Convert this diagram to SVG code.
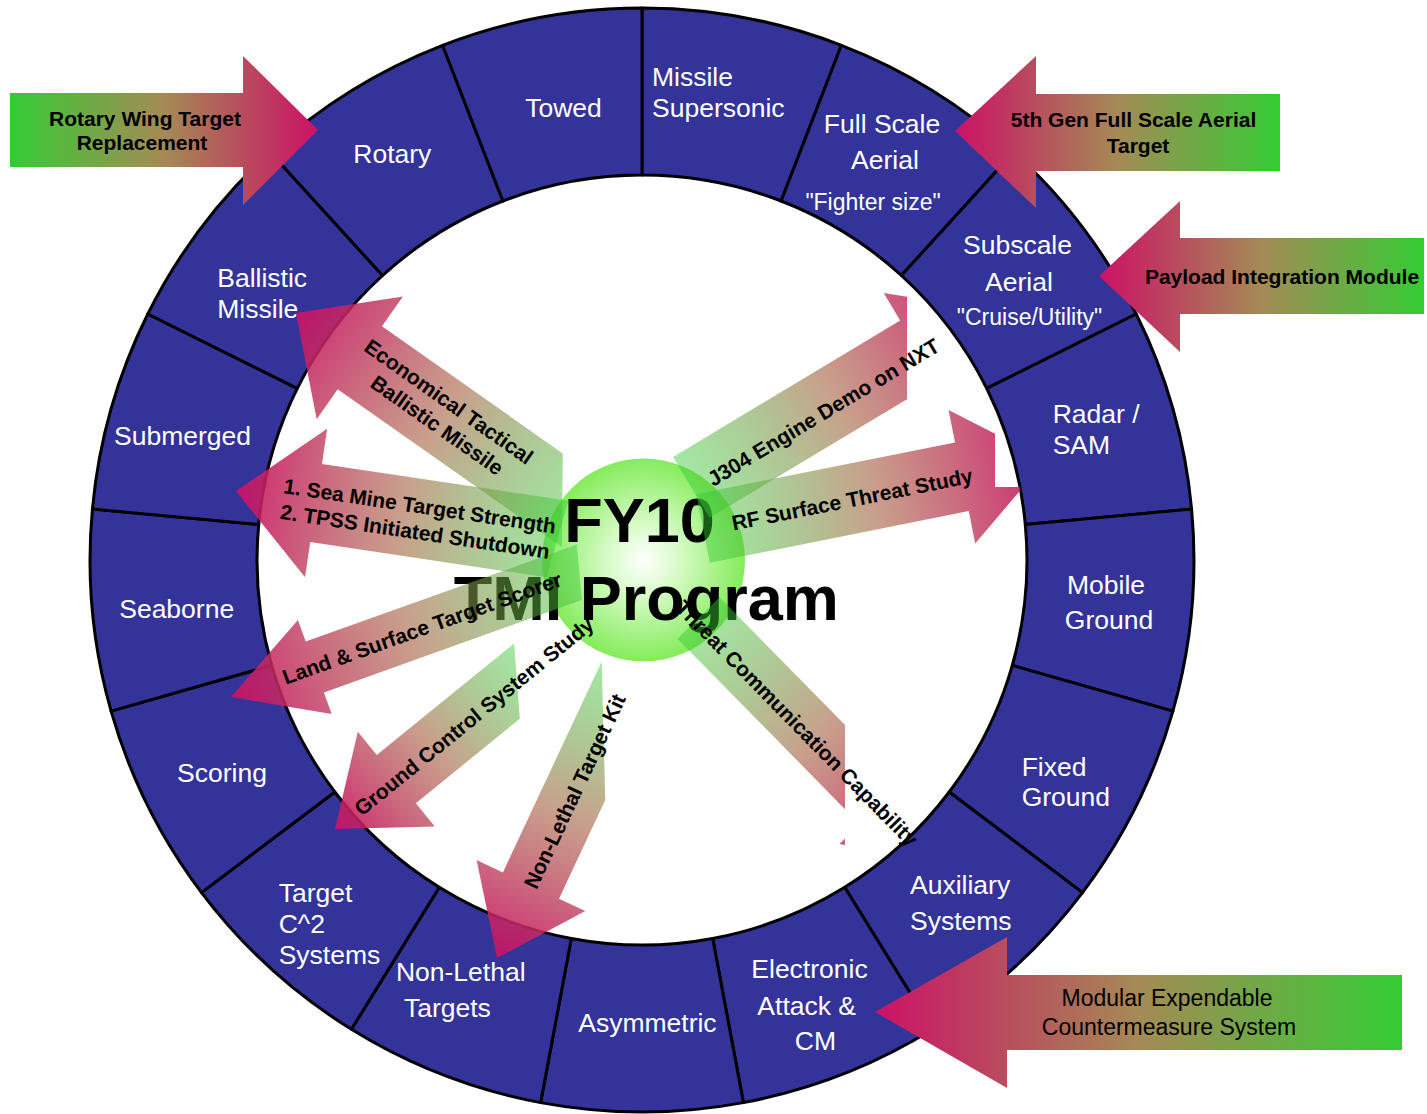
<svg xmlns="http://www.w3.org/2000/svg" width="1427" height="1114" viewBox="0 0 1427 1114">
<defs>
<style>
.seg{fill:#333399;stroke:#000;stroke-width:3;stroke-linejoin:round}
.lbl{font-family:"Liberation Sans",Arial,sans-serif;font-size:26.5px;fill:#fff}
.sub{font-size:23px}
.m{text-anchor:middle}
.ob{font-family:"Liberation Sans",Arial,sans-serif;font-size:21px;font-weight:bold;fill:#000;text-anchor:middle}
.on{font-family:"Liberation Sans",Arial,sans-serif;font-size:23px;fill:#000;text-anchor:middle}
.ib{font-family:"Liberation Sans",Arial,sans-serif;font-size:21px;font-weight:bold;fill:#000;text-anchor:middle}
.ct{font-family:"Liberation Sans",Arial,sans-serif;font-size:63px;font-weight:bold;fill:#000;text-anchor:middle}
</style>
<linearGradient id="gR" x1="0" y1="0" x2="1" y2="0">
<stop offset="0" stop-color="#33cc33"/><stop offset="0.5" stop-color="#a58a55"/><stop offset="1" stop-color="#cc1166"/>
</linearGradient>
<linearGradient id="gL" x1="0" y1="0" x2="1" y2="0">
<stop offset="0" stop-color="#cc1166"/><stop offset="0.5" stop-color="#a58a55"/><stop offset="1" stop-color="#33cc33"/>
</linearGradient>
<linearGradient id="iL" x1="0" y1="0" x2="1" y2="0">
<stop offset="0" stop-color="#cc1166" stop-opacity="0.92"/><stop offset="0.5" stop-color="#b07055" stop-opacity="0.68"/><stop offset="1" stop-color="#33cc33" stop-opacity="0.45"/>
</linearGradient>
<linearGradient id="iR" x1="0" y1="0" x2="1" y2="0">
<stop offset="0" stop-color="#33cc33" stop-opacity="0.45"/><stop offset="0.5" stop-color="#b07055" stop-opacity="0.68"/><stop offset="1" stop-color="#cc1166" stop-opacity="0.92"/>
</linearGradient>
<radialGradient id="cg" cx="0.5" cy="0.5" r="0.5">
<stop offset="0" stop-color="#ffffff"/><stop offset="0.35" stop-color="#d8fbc8"/><stop offset="1" stop-color="#84ec5a"/>
</radialGradient>
<clipPath id="clipJ"><rect x="0" y="0" width="907" height="1114"/></clipPath>
<clipPath id="clipRF"><path d="M0,0 H995 V487 H1020 V1114 H0 Z"/></clipPath>
<clipPath id="clipTh"><rect x="0" y="0" width="845" height="1114"/></clipPath>
</defs>
<rect width="1427" height="1114" fill="#fff"/>

<g id="ring">
<g id="seg-missile"><path class="seg" d="M642,8 A552,552 0 0 1 841.4,45.3 L781.1,201 A385,385 0 0 0 642,175 Z"/><text class="lbl" x="652" y="86">Missile</text><text class="lbl" x="652" y="117">Supersonic</text></g>
<g id="seg-fullscale"><path class="seg" d="M841.4,45.3 A552,552 0 0 1 1013.9,152.1 L901.4,275.5 A385,385 0 0 0 781.1,201 Z"/><text class="lbl m" x="882" y="133">Full Scale</text><text class="lbl m" x="885" y="169">Aerial</text><text class="lbl sub m" x="873" y="210">"Fighter size"</text></g>
<g id="seg-subscale"><path class="seg" d="M1013.9,152.1 A552,552 0 0 1 1136.2,314 L986.7,388.4 A385,385 0 0 0 901.4,275.5 Z"/><text class="lbl m" x="1017.5" y="254">Subscale</text><text class="lbl m" x="1019" y="291">Aerial</text><text class="lbl sub m" x="1029.5" y="325">"Cruise/Utility"</text></g>
<g id="seg-radar"><path class="seg" d="M1136.2,314 A552,552 0 0 1 1191.6,509.1 L1025.3,524.5 A385,385 0 0 0 986.7,388.4 Z"/><text class="lbl" x="1052.7" y="422.5">Radar /</text><text class="lbl" x="1052.7" y="453.6">SAM</text></g>
<g id="seg-mobile"><path class="seg" d="M1191.6,509.1 A552,552 0 0 1 1172.9,711.1 L1012.3,665.4 A385,385 0 0 0 1025.3,524.5 Z"/><text class="lbl m" x="1106" y="594">Mobile</text><text class="lbl m" x="1109" y="629">Ground</text></g>
<g id="seg-fixed"><path class="seg" d="M1172.9,711.1 A552,552 0 0 1 1082.5,892.6 L949.2,792 A385,385 0 0 0 1012.3,665.4 Z"/><text class="lbl" x="1021.7" y="776">Fixed</text><text class="lbl" x="1021.7" y="806">Ground</text></g>
<g id="seg-auxiliary"><path class="seg" d="M1082.5,892.6 A552,552 0 0 1 932.6,1029.3 L844.7,887.3 A385,385 0 0 0 949.2,792 Z"/><text class="lbl" x="910" y="894">Auxiliary</text><text class="lbl" x="910" y="930">Systems</text></g>
<g id="seg-electronic"><path class="seg" d="M932.6,1029.3 A552,552 0 0 1 743.4,1102.6 L712.7,938.5 A385,385 0 0 0 844.7,887.3 Z"/><text class="lbl m" x="809.5" y="978">Electronic</text><text class="lbl m" x="806.7" y="1015">Attack &amp;</text><text class="lbl m" x="815.4" y="1050">CM</text></g>
<g id="seg-asymmetric"><path class="seg" d="M743.4,1102.6 A552,552 0 0 1 540.6,1102.6 L571.3,938.5 A385,385 0 0 0 712.7,938.5 Z"/><text class="lbl m" x="647.4" y="1032">Asymmetric</text></g>
<g id="seg-nonlethal"><path class="seg" d="M540.6,1102.6 A552,552 0 0 1 351.4,1029.3 L439.3,887.3 A385,385 0 0 0 571.3,938.5 Z"/><text class="lbl m" x="460.7" y="981">Non-Lethal</text><text class="lbl m" x="447.4" y="1017">Targets</text></g>
<g id="seg-targetc2"><path class="seg" d="M351.4,1029.3 A552,552 0 0 1 201.5,892.6 L334.8,792 A385,385 0 0 0 439.3,887.3 Z"/><text class="lbl" x="278.7" y="902">Target</text><text class="lbl" x="278.7" y="933">C^2</text><text class="lbl" x="278.7" y="964">Systems</text></g>
<g id="seg-scoring"><path class="seg" d="M201.5,892.6 A552,552 0 0 1 111.1,711.1 L271.7,665.4 A385,385 0 0 0 334.8,792 Z"/><text class="lbl m" x="222" y="782">Scoring</text></g>
<g id="seg-seaborne"><path class="seg" d="M111.1,711.1 A552,552 0 0 1 92.4,509.1 L258.7,524.5 A385,385 0 0 0 271.7,665.4 Z"/><text class="lbl m" x="176.7" y="618">Seaborne</text></g>
<g id="seg-submerged"><path class="seg" d="M92.4,509.1 A552,552 0 0 1 147.8,314 L297.3,388.4 A385,385 0 0 0 258.7,524.5 Z"/><text class="lbl m" x="182.5" y="445">Submerged</text></g>
<g id="seg-ballistic"><path class="seg" d="M147.8,314 A552,552 0 0 1 270.1,152.1 L382.6,275.5 A385,385 0 0 0 297.3,388.4 Z"/><text class="lbl" x="217.3" y="287">Ballistic</text><text class="lbl" x="217.3" y="318">Missile</text></g>
<g id="seg-rotary"><path class="seg" d="M270.1,152.1 A552,552 0 0 1 442.6,45.3 L502.9,201 A385,385 0 0 0 382.6,275.5 Z"/><text class="lbl m" x="392.3" y="163">Rotary</text></g>
<g id="seg-towed"><path class="seg" d="M442.6,45.3 A552,552 0 0 1 642,8 L642,175 A385,385 0 0 0 502.9,201 Z"/><text class="lbl m" x="563.5" y="117">Towed</text></g>
</g>

<g id="callout-rotary">
<polygon points="10,93 243,93 243,56 318,130 243,205 243,167 10,167" fill="url(#gR)"/>
<text class="ob" x="145" y="126">Rotary Wing Target</text><text class="ob" x="142" y="150">Replacement</text>
</g>
<g id="callout-5thgen">
<polygon points="1280,94 1036,94 1036,56 955,131 1036,208 1036,171 1280,171" fill="url(#gL)"/>
<text class="ob" x="1133.5" y="127">5th Gen Full Scale Aerial</text><text class="ob" x="1138" y="153">Target</text>
</g>
<g id="callout-payload">
<polygon points="1424,238 1180,238 1180,201 1099,276 1180,352 1180,314 1424,314" fill="url(#gL)"/>
<text class="ob" x="1282" y="284">Payload Integration Module</text>
</g>
<g id="callout-modular">
<polygon points="1402,975 1007,975 1007,937 875,1012 1007,1088 1007,1050 1402,1050" fill="url(#gL)"/>
<text class="on" x="1167" y="1006">Modular Expendable</text><text class="on" x="1169" y="1035">Countermeasure System</text>
</g>

<g id="center">
<circle cx="643.5" cy="560" r="101.5" fill="url(#cg)"/>
<text class="ct" x="639.5" y="542">FY10</text>
<text class="ct" x="646.3" y="620">TMI Program</text>
</g>

<g id="connectors">
<g id="arrow-etbm"><polygon transform="translate(296,313) rotate(35.1)" points="0,0 78,-75 78,-38.5 299,-38.5 352,38.5 78,38.5 78,75" fill="url(#iL)"/></g>
<g id="arrow-seamine"><polygon transform="translate(236,491) rotate(8.5)" points="0,0 81,-75 81,-39.5 330,-39.5 320,39.5 81,39.5 81,75" fill="url(#iL)"/></g>
<g id="arrow-land"><polygon transform="translate(231,697) rotate(-19.7)" points="0,0 89,-50 89,-27 377,-27 363,27 89,27 89,50" fill="url(#iL)"/></g>
<g id="arrow-gcs"><polygon transform="translate(335,829) rotate(-39.1)" points="0,0 79,-61 79,-31 256,-31 213,31 79,31 79,61" fill="url(#iL)"/></g>
<g id="arrow-nonlethal"><polygon transform="translate(497,958) rotate(-64.9)" points="0,0 80,-60 80,-31 313,-31 189,31 80,31 80,60" fill="url(#iL)"/></g>
<g id="arrow-j304" clip-path="url(#clipJ)"><polygon transform="translate(691.3,487.4) rotate(-31)" points="0,-35.5 265,-35.5 265,-67.5 345,0 265,67.5 265,35.5 0,35.5" fill="url(#iR)"/></g>
<g id="arrow-rf" clip-path="url(#clipRF)"><polygon transform="translate(703,528.5) rotate(-11.3)" points="0,-35 264,-35 264,-68 350,0 264,68 264,35 0,35" fill="url(#iR)"/></g>
<g id="arrow-threat" clip-path="url(#clipTh)"><polygon transform="translate(698.5,618) rotate(45.5)" points="0,-29.5 260,-29.5 260,-58 340,0 260,58 260,29.5 0,29.5" fill="url(#iR)"/></g>
</g>

<g id="connector-labels">
<g transform="translate(296,313) rotate(35.1)"><text class="ib" x="176" y="-8">Economical Tactical</text><text class="ib" x="180" y="18">Ballistic Missile</text></g>
<g transform="translate(236,491) rotate(8.5)"><text class="ib" x="184" y="-5">1. Sea Mine Target Strength</text><text class="ib" x="183" y="21">2. TPSS Initiated Shutdown</text></g>
<g transform="translate(231,697) rotate(-19.7)"><text class="ib" x="203" y="7">Land &amp; Surface Target Scorer</text></g>
<g transform="translate(335,829) rotate(-39.1)"><text class="ib" x="179" y="7.5">Ground Control System Study</text></g>
<g transform="translate(497,958) rotate(-64.9)"><text class="ib" x="184" y="7">Non-Lethal Target Kit</text></g>
<g transform="translate(691.3,487.4) rotate(-31)"><text class="ib" x="152" y="11">J304 Engine Demo on NXT</text></g>
<g transform="translate(703,528.5) rotate(-11.3)"><text class="ib" x="152" y="8">RF Surface Threat Study</text></g>
<g transform="translate(698.5,618) rotate(45.5)"><text class="ib" x="144" y="11">Threat Communication Capability</text></g>
</g>
</svg>
